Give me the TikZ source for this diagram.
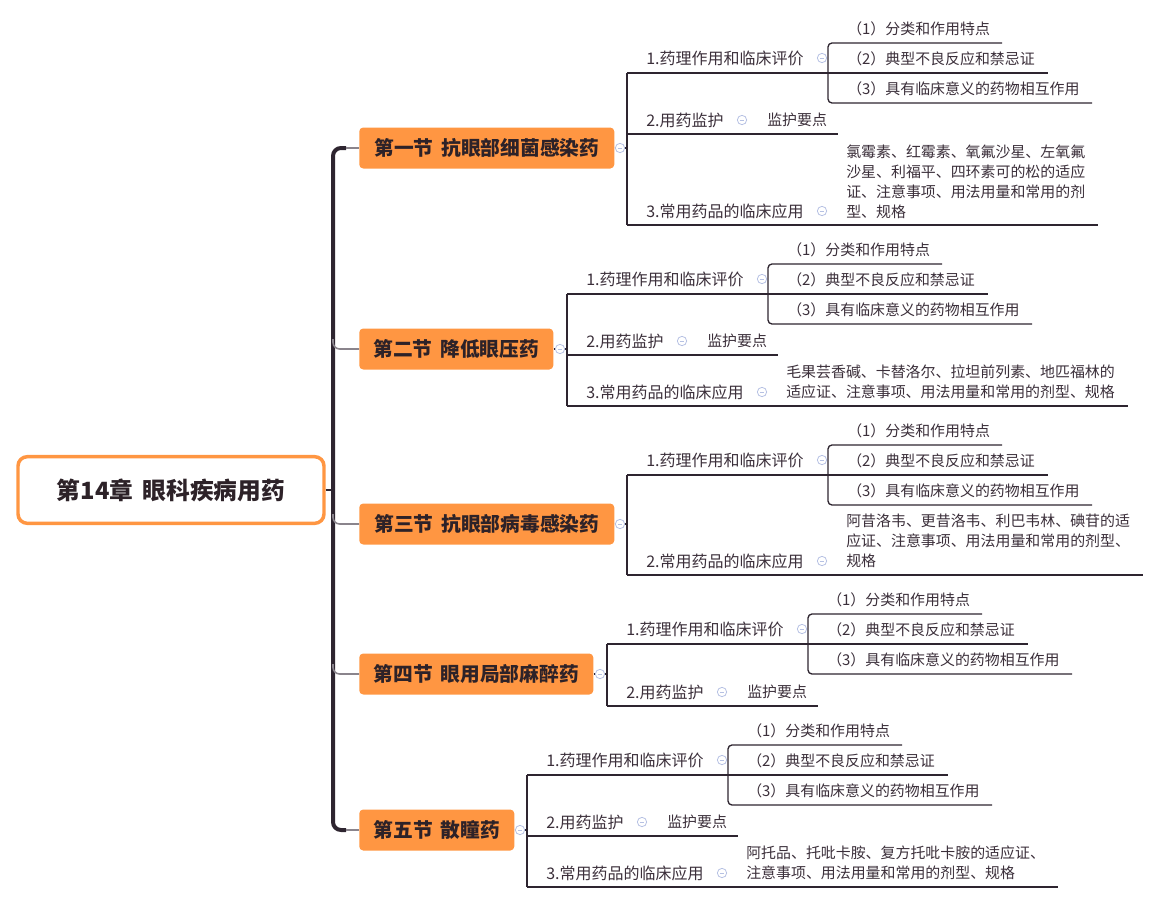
\documentclass[tikz,border=0pt]{standalone}
\usepackage{fontspec}
\setmainfont{Noto Sans CJK SC}
\usetikzlibrary{positioning,calc}

\definecolor{mmorange}{HTML}{FF9642}
\definecolor{mmline}{HTML}{2E2530}
\definecolor{mmtext}{HTML}{3B2F3A}
\definecolor{mmdark}{HTML}{2D2228}
\definecolor{mmgrey}{HTML}{8A848C}
\definecolor{foldc}{HTML}{B6C1E3}

\tikzset{
    rootbox/.style={draw=mmorange, line width=2.6pt, rounded corners=7pt, fill=white, text=mmdark,
        minimum width=229.5pt, minimum height=50pt, font=\fontsize{17.8pt}{20pt}\selectfont\bfseries},
    secbox/.style={anchor=west, fill=mmorange, rounded corners=3pt, text=mmdark, inner sep=0pt,
        minimum height=30.75pt, font=\fontsize{14.8pt}{17pt}\selectfont\bfseries},
    label/.style={anchor=west, inner sep=0pt, text=mmtext, font=\fontsize{12pt}{15pt}\selectfont},
    item/.style={anchor=west, inner sep=0pt, text=mmtext, align=left, font=\fontsize{11.2pt}{15pt}\selectfont},
    under/.style={draw=mmline, line width=1pt},
    branch/.style={draw=mmgrey, line width=1.2pt},
    spine/.style={draw=mmline, line width=3pt},
    fold/.style={circle, draw=foldc, fill=white, line width=0.6pt, inner sep=0pt, minimum size=7pt,
        path picture={\draw[foldc, line width=0.6pt]
            ([xshift=-1.7pt]path picture bounding box.center) -- ([xshift=1.7pt]path picture bounding box.center);}}
}

% #1 prefix, #2 bracket x, #3 underline y
\newcommand{\evalpart}[3]{%
    \node[label] (#1e) at (#2+19,#3-15) {1.药理作用和临床评价};
    \node[fold] (#1ef) at (#2+195,#3-15) {};
    \node[item] (#1e1) at (#2+220,#3-44) {（1）分类和作用特点};
    \node[item] (#1e2) at (#2+220,#3-14) {（2）典型不良反应和禁忌证};
    \node[item] (#1e3) at (#2+220,#3+16) {（3）具有临床意义的药物相互作用};
    \coordinate (#1et) at (#2+201,#3-30);
    \coordinate (#1eb) at (#2+201,#3+30);
    \draw[under] (#2,#3) -- (#2+421,#3);
    \draw[under, rounded corners=3pt] (#2+375,#3-30) -- (#1et) -- (#1eb) -- (#2+465,#3+30);
}
\newcommand{\monpart}[3]{%
    \node[label] (#1m) at (#2+19,#3-14) {2.用药监护};
    \node[fold] (#1mf) at (#2+115,#3-14) {};
    \node[item] (#1m1) at (#2+140,#3-14) {监护要点};
    \draw[under] (#2,#3) -- (#2+211,#3);
}

\begin{document}
\begin{tikzpicture}[x=0.75pt, y=-0.75pt]
    \useasboundingbox (0,0) rectangle (1160,903);

    % Root and spine
    \node[rootbox] (root) at (171,490) {第14章\hspace{0.4em}眼科疾病用药};
    \node[secbox, minimum width=191.25pt] (sec1) at (359,148) {第一节\hspace{0.4em}抗眼部细菌感染药};
    \node[secbox, minimum width=145.5pt] (sec2) at (359,349) {第二节\hspace{0.4em}降低眼压药};
    \node[secbox, minimum width=191.25pt] (sec3) at (359,524) {第三节\hspace{0.4em}抗眼部病毒感染药};
    \node[secbox, minimum width=175.5pt] (sec4) at (359,674) {第四节\hspace{0.4em}眼用局部麻醉药};
    \node[secbox, minimum width=116.25pt] (sec5) at (359,830) {第五节\hspace{0.4em}散瞳药};

    \coordinate (sp1) at (346,148);
    \coordinate (sp5) at (346,830);
    \draw[spine, rounded corners=6pt] (sp1) -- (333,148) -- (333,830) -- (sp5);
    \draw[branch] (sp1) -- (sec1.west);
    \draw[branch] (sp5) -- (sec5.west);
    \draw[branch, rounded corners=5pt] (333,339) |- (sec2.west);
    \draw[branch, rounded corners=5pt] (333,514) |- (sec3.west);
    \draw[branch, rounded corners=5pt] (333,664) |- (sec4.west);
    \draw[under] (root.east) -- (333,490);

    % 第一节
    \coordinate (b1) at (627,148);
    \draw[under] (sec1.east) -- (b1);
    \draw[under] (627,73) -- (627,225);
    \node[fold] (f1) at (620,148) {};
    \evalpart{s1}{627}{73}
    \monpart{s1}{627}{134}
    \node[label] (s1u) at (646,211) {3.常用药品的临床应用};
    \node[fold] (s1uf) at (822,211) {};
    \node[item] (s1u1) at (846,181.5) {氯霉素、红霉素、氧氟沙星、左氧氟\\沙星、利福平、四环素可的松的适应\\证、注意事项、用法用量和常用的剂\\型、规格};
    \draw[under] (627,225) -- (1098,225);

    % 第二节
    \coordinate (b2) at (567,349);
    \draw[under] (sec2.east) -- (b2);
    \draw[under] (567,294) -- (567,406);
    \node[fold] (f2) at (560,349) {};
    \evalpart{s2}{567}{294}
    \monpart{s2}{567}{355}
    \node[label] (s2u) at (586,392) {3.常用药品的临床应用};
    \node[fold] (s2uf) at (762,392) {};
    \node[item] (s2u1) at (786,382) {毛果芸香碱、卡替洛尔、拉坦前列素、地匹福林的\\适应证、注意事项、用法用量和常用的剂型、规格};
    \draw[under] (567,406) -- (1128,406);

    % 第三节
    \coordinate (b3) at (627,524);
    \draw[under] (sec3.east) -- (b3);
    \draw[under] (627,475) -- (627,575);
    \node[fold] (f3) at (620,524) {};
    \evalpart{s3}{627}{475}
    \node[label] (s3u) at (646,561) {2.常用药品的临床应用};
    \node[fold] (s3uf) at (822,561) {};
    \node[item] (s3u1) at (846,541) {阿昔洛韦、更昔洛韦、利巴韦林、碘苷的适\\应证、注意事项、用法用量和常用的剂型、\\规格};
    \draw[under] (627,575) -- (1143,575);

    % 第四节
    \coordinate (b4) at (607,674);
    \draw[under] (sec4.east) -- (b4);
    \draw[under] (607,644) -- (607,706);
    \node[fold] (f4) at (600,674) {};
    \evalpart{s4}{607}{644}
    \monpart{s4}{607}{706}

    % 第五节
    \coordinate (b5) at (527,830);
    \draw[under] (sec5.east) -- (b5);
    \draw[under] (527,775) -- (527,887);
    \node[fold] (f5) at (520,830) {};
    \evalpart{s5}{527}{775}
    \monpart{s5}{527}{836}
    \node[label] (s5u) at (546,873) {3.常用药品的临床应用};
    \node[fold] (s5uf) at (722,873) {};
    \node[item] (s5u1) at (746,863) {阿托品、托吡卡胺、复方托吡卡胺的适应证、\\注意事项、用法用量和常用的剂型、规格};
    \draw[under] (527,887) -- (1058,887);
\end{tikzpicture}
\end{document}
